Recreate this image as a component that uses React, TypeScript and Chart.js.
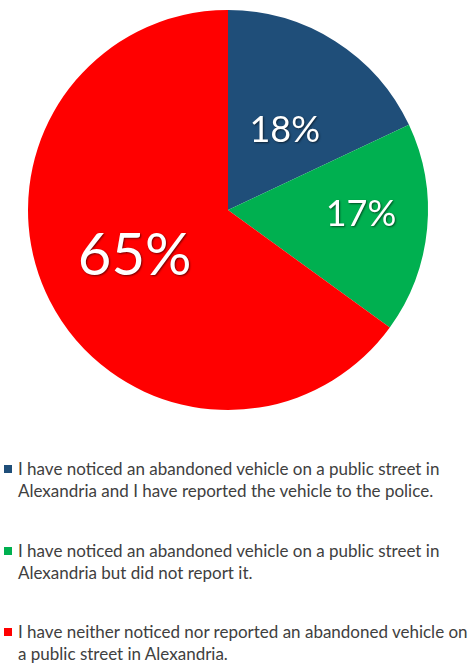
import React, { useEffect, useRef } from "react";
import { Chart, registerables } from "chart.js";

Chart.register(...registerables);

const categories = [
  "I have noticed an abandoned vehicle on a public street in Alexandria and I have reported the vehicle to the police.",
  "I have noticed an abandoned vehicle on a public street in Alexandria but did not report it.",
  "I have neither noticed nor reported an abandoned vehicle on a public street in Alexandria.",
];
const legendLines = [
  ["I have noticed an abandoned vehicle on a public street in", "Alexandria and I have reported the vehicle to the police."],
  ["I have noticed an abandoned vehicle on a public street in", "Alexandria but did not report it."],
  ["I have neither noticed nor reported an abandoned vehicle on", "a public street in Alexandria."],
];
const values = [18, 17, 65];
const colors = ["#1F4E79", "#00B050", "#FF0000"];

const labelPlugin = {
  id: "pctLabels",
  afterDatasetsDraw(chart: any) {
    const ctx = chart.ctx;
    const meta = chart.getDatasetMeta(0);
    const fr = [0.49, 0.665, 0.52];
    const dAng = [3, -3.7, 0.8];
    const sizes = [36, 36, 58];
    meta.data.forEach((arc: any, i: number) => {
      const { x, y, startAngle, endAngle, outerRadius } = arc.getProps(
        ["x", "y", "startAngle", "endAngle", "outerRadius"],
        true
      );
      const mid = (startAngle + endAngle) / 2 + (dAng[i] * Math.PI) / 180;
      const r = outerRadius * fr[i];
      const tx = x + Math.cos(mid) * r;
      const ty = y + Math.sin(mid) * r;
      ctx.save();
      ctx.font = `${sizes[i]}px Lato, "Open Sans", sans-serif`;
      ctx.fillStyle = "#ffffff";
      ctx.textAlign = "center";
      ctx.textBaseline = "middle";
      ctx.shadowColor = "rgba(0,0,0,0.55)";
      ctx.shadowBlur = 2;
      ctx.shadowOffsetX = 1;
      ctx.shadowOffsetY = 1;
      ctx.fillText(values[i] + "%", tx, ty);
      ctx.restore();
    });
  },
};

export default function App() {
  const ref = useRef<HTMLCanvasElement>(null);
  useEffect(() => {
    if (!ref.current) return;
    const chart = new Chart(ref.current, {
      type: "pie",
      data: {
        labels: categories,
        datasets: [
          {
            data: values,
            backgroundColor: colors,
            borderWidth: 0,
            hoverOffset: 0,
          },
        ],
      },
      options: {
        responsive: false,
        animation: false,
        layout: { padding: { left: 28, right: 45, top: 10, bottom: 10 } },
        plugins: {
          legend: { display: false },
          tooltip: { enabled: false },
        },
      },
      plugins: [labelPlugin],
    });
    return () => chart.destroy();
  }, []);

  const tops = [458, 540, 621];
  return (
    <div style={{ position: "absolute", left: 0, top: 0, width: 473, height: 664, background: "#fff", overflow: "hidden" }}>
      <canvas ref={ref} width={473} height={420} style={{ display: "block" }} />
      {legendLines.map((lines, i) => (
        <div
          key={i}
          style={{
            position: "absolute",
            left: 0,
            top: tops[i],
            fontFamily: 'Lato, "Open Sans", sans-serif',
            fontSize: 17,
            lineHeight: "22px",
            color: "#404040",
            whiteSpace: "nowrap",
          }}
        >
          <span
            style={{
              position: "absolute",
              left: 4,
              top: 7,
              width: 8,
              height: 8,
              background: colors[i],
            }}
          />
          {lines.map((l, j) => (
            <div key={j} style={{ paddingLeft: 18 }}>
              {l}
            </div>
          ))}
        </div>
      ))}
    </div>
  );
}
